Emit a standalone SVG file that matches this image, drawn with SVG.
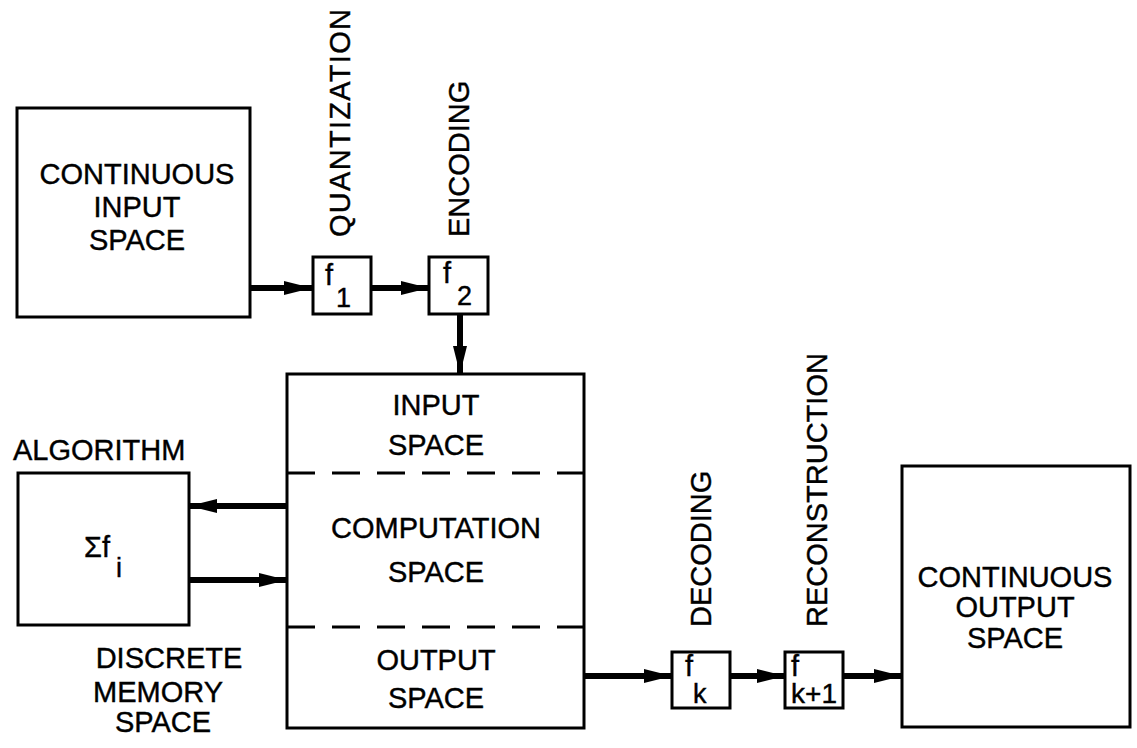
<svg xmlns="http://www.w3.org/2000/svg" width="1137" height="748" viewBox="0 0 1137 748">
<defs>
<marker id="ah" markerUnits="userSpaceOnUse" markerWidth="30" markerHeight="16" refX="28" refY="8" orient="auto">
<path d="M0,1 L28,8 L0,15 z" fill="#000"/>
</marker>
<style>
.box{fill:#fff;stroke:#000;stroke-width:3}
.t{font-family:"Liberation Sans",Arial,sans-serif;font-size:29px;fill:#000;stroke:#000;stroke-width:0.4}
.c{text-anchor:middle}
.s{font-size:27px}
.arr{stroke:#000;stroke-width:6;fill:none;marker-end:url(#ah)}
.dash{stroke:#000;stroke-width:3;stroke-dasharray:28 17}
</style>
</defs>
<rect width="1137" height="748" fill="#fff"/>

<g id="connectors">
<line class="arr" x1="250" y1="288" x2="312" y2="288"/>
<line class="arr" x1="370" y1="288" x2="429" y2="288"/>
<line class="arr" x1="460" y1="314" x2="460" y2="374"/>
<line class="arr" x1="287" y1="506" x2="189" y2="506"/>
<line class="arr" x1="189" y1="580" x2="287" y2="580"/>
<line class="arr" x1="584" y1="676" x2="672" y2="676"/>
<line class="arr" x1="730" y1="676" x2="785" y2="676"/>
<line class="arr" x1="843" y1="676" x2="902" y2="676"/>
</g>

<g id="continuous-input">
<rect class="box" x="17" y="108" width="233" height="209"/>
<text class="t c" x="137" y="184">CONTINUOUS</text>
<text class="t c" x="137" y="217">INPUT</text>
<text class="t c" x="137" y="250">SPACE</text>
</g>

<g id="f1">
<rect class="box" x="313" y="257" width="58" height="57"/>
<text class="t" x="325" y="285">f</text>
<text class="t s" x="336" y="307">1</text>
<text class="t" transform="translate(350,237) rotate(-90)" textLength="228" lengthAdjust="spacing">QUANTIZATION</text>
</g>

<g id="f2">
<rect class="box" x="429" y="257" width="59" height="57"/>
<text class="t" x="443" y="283">f</text>
<text class="t s" x="457" y="305">2</text>
<text class="t" transform="translate(469,237) rotate(-90)">ENCODING</text>
</g>

<g id="main-space">
<rect class="box" x="287" y="374" width="297" height="354"/>
<line class="dash" x1="287" y1="473" x2="584" y2="473"/>
<line class="dash" x1="287" y1="627" x2="584" y2="627"/>
<text class="t c" x="436" y="415">INPUT</text>
<text class="t c" x="436" y="455">SPACE</text>
<text class="t c" x="436" y="538">COMPUTATION</text>
<text class="t c" x="436" y="582">SPACE</text>
<text class="t c" x="436" y="670">OUTPUT</text>
<text class="t c" x="436" y="708">SPACE</text>
</g>

<g id="algorithm">
<text class="t" x="13" y="460">ALGORITHM</text>
<rect class="box" x="18" y="473" width="171" height="152"/>
<text class="t" x="84" y="557">Σf</text>
<text class="t s" x="116" y="577">i</text>
<text class="t c" x="169" y="668">DISCRETE</text>
<text class="t c" x="158" y="702">MEMORY</text>
<text class="t c" x="163" y="732">SPACE</text>
</g>

<g id="fk">
<rect class="box" x="672" y="652" width="58" height="56"/>
<text class="t" x="685" y="676">f</text>
<text class="t s" x="693" y="703">k</text>
<text class="t" transform="translate(711,627) rotate(-90)">DECODING</text>
</g>

<g id="fk1">
<rect class="box" x="785" y="652" width="58" height="56"/>
<text class="t" x="791" y="676">f</text>
<text class="t s" x="791" y="703" textLength="46" lengthAdjust="spacingAndGlyphs">k+1</text>
<text class="t" transform="translate(827,627) rotate(-90)">RECONSTRUCTION</text>
</g>

<g id="continuous-output">
<rect class="box" x="902" y="466" width="228" height="261"/>
<text class="t c" x="1015" y="587">CONTINUOUS</text>
<text class="t c" x="1015" y="617">OUTPUT</text>
<text class="t c" x="1015" y="648">SPACE</text>
</g>
</svg>
